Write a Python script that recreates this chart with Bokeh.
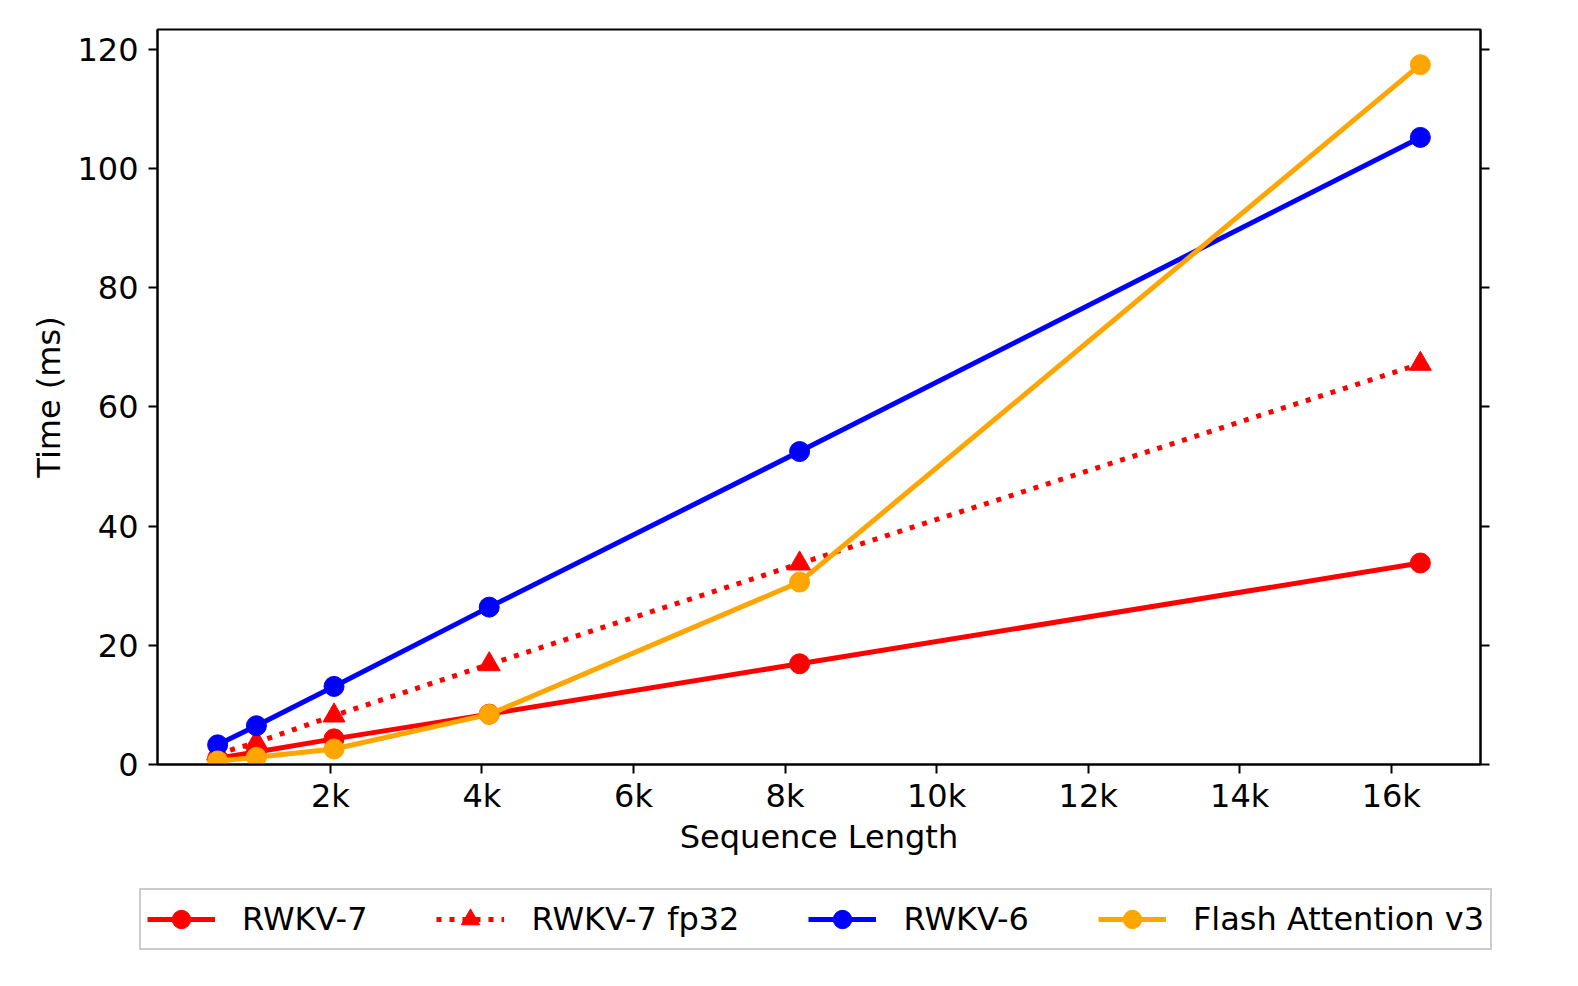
from bokeh.plotting import figure
from bokeh.layouts import column
from bokeh.models import Range1d, LinearAxis, FixedTicker, Legend, LegendItem
from bokeh.embed import file_html
from bokeh.resources import INLINE

# ---- data ----
seq_len = [512, 1024, 2048, 4096, 8192, 16384]
rwkv7 = [1.05, 2.1, 4.3, 8.45, 16.9, 33.8]
rwkv7_fp32 = [1.8, 3.7, 8.2, 16.8, 33.7, 67.2]
rwkv6 = [3.3, 6.5, 13.1, 26.4, 52.5, 105.2]
flash_v3 = [0.6, 1.2, 2.6, 8.4, 30.6, 117.4]

series_names = ["RWKV-7", "RWKV-7 fp32", "RWKV-6", "Flash Attention v3"]
series_values = [rwkv7, rwkv7_fp32, rwkv6, flash_v3]
series_colors = ["#ff0000", "#ff0000", "#0000ff", "#ffa500"]
series_markers = ["circle", "triangle", "circle", "circle"]
x_ticks = [2000, 4000, 6000, 8000, 10000, 12000, 14000, 16000]
x_tick_labels = ["2k", "4k", "6k", "8k", "10k", "12k", "14k", "16k"]
y_ticks = [0, 20, 40, 60, 80, 100, 120]

FONT = "DejaVu Sans"
FS = "32px"
LW = 5
MS = 20
DASH = "5 8"
series_dashes = ["solid", DASH, "solid", "solid"]

span = seq_len[-1] - seq_len[0]
p = figure(width=1562, height=870, output_backend="svg", toolbar_location=None,
           x_range=Range1d(seq_len[0] - 0.05 * span, seq_len[-1] + 0.05 * span),
           y_range=Range1d(0, 123.3),
           min_border_left=157, min_border_right=82, min_border_top=29, min_border_bottom=106)

p.grid.visible = False
p.outline_line_color = "black"
p.outline_line_width = 2
p.background_fill_color = "white"
p.border_fill_color = "white"

xa = p.xaxis[0]
xa.ticker = FixedTicker(ticks=x_ticks)
xa.major_label_overrides = {t: l for t, l in zip(x_ticks, x_tick_labels)}
xa.axis_label = "Sequence Length"

ya = p.yaxis[0]
ya.ticker = FixedTicker(ticks=y_ticks)
ya.axis_label = "Time (ms)"

ra = LinearAxis(ticker=FixedTicker(ticks=y_ticks),
                major_label_overrides={t: "" for t in y_ticks},
                major_label_standoff=0)
p.add_layout(ra, "right")

for ax in [xa, ya, ra]:
    ax.axis_line_width = 2
    ax.axis_line_color = "black"
    ax.major_tick_line_width = 2
    ax.major_tick_line_color = "black"
    ax.major_tick_out = 9
    ax.major_tick_in = 0
    ax.minor_tick_line_color = None
    ax.major_label_text_font = FONT
    ax.axis_label_text_font = FONT
    ax.axis_label_text_font_style = "normal"
    ax.axis_label_text_font_size = FS
    ax.axis_label_text_color = "black"
    ax.major_label_text_color = "black"
    ax.major_label_text_font_size = FS
xa.major_label_standoff = 3
ya.major_label_standoff = 10
xa.axis_label_standoff = 0
ya.axis_label_standoff = 6

for vals, col, mk, ds in zip(series_values, series_colors, series_markers, series_dashes):
    p.line(seq_len, vals, line_color=col, line_width=LW, line_dash=ds)
    p.scatter(seq_len, vals, marker=mk, size=MS + (2 if mk == "triangle" else 0),
              fill_color=col, line_color=col)

# ---- legend strip below the chart (its glyphs lie outside its own view) ----
q = figure(frame_width=1562, frame_height=100, output_backend="svg", toolbar_location=None,
           x_range=Range1d(-2, -1), y_range=Range1d(-2, -1),
           x_axis_type=None, y_axis_type=None,
           min_border_left=0, min_border_right=0, min_border_top=0, min_border_bottom=0)
if "frame_align" in q.properties():
    q.frame_align = False
q.grid.visible = False
q.outline_line_color = None
q.background_fill_color = "white"
q.border_fill_color = "white"

items = []
for name, vals, col, mk, ds in zip(series_names, series_values, series_colors,
                                   series_markers, series_dashes):
    lr = q.line(seq_len, vals, line_color=col, line_width=LW, line_dash=ds)
    sr = q.scatter(seq_len, vals, marker=mk, size=MS, fill_color=col, line_color=col)
    items.append(LegendItem(label=name, renderers=[lr, sr]))

legend = Legend(items=items, orientation="horizontal", location=(139, 20),
                label_text_font=FONT, label_text_font_size=FS, label_text_color="black",
                glyph_width=68, glyph_height=46, label_standoff=27, spacing=69,
                padding=6, margin=0,
                border_line_color="#cccccc", border_line_width=2, border_line_alpha=1.0,
                background_fill_color="white", background_fill_alpha=1.0)
q.add_layout(legend, "center")

layout = column(p, q, spacing=0)
open("out.html", "w").write(file_html(layout, INLINE))
